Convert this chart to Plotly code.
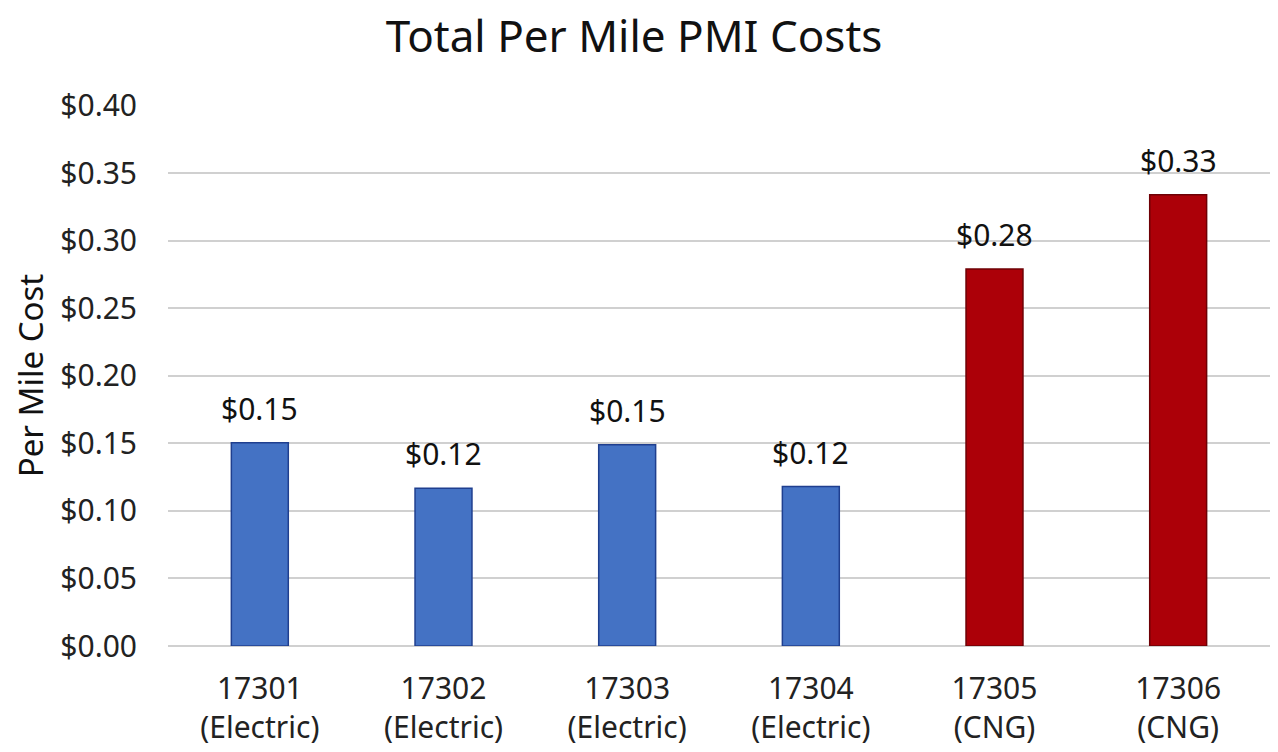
import plotly.graph_objects as go

categories = ["17301<br>(Electric)", "17302<br>(Electric)", "17303<br>(Electric)",
              "17304<br>(Electric)", "17305<br>(CNG)", "17306<br>(CNG)"]
values = [0.1505, 0.1168, 0.149, 0.118, 0.279, 0.334]
fuel = ["Electric", "Electric", "Electric", "Electric", "CNG", "CNG"]
tick_vals = [0, 0.05, 0.10, 0.15, 0.20, 0.25, 0.30, 0.35, 0.40]

fill = {"Electric": "#4472C4", "CNG": "#AC0008"}
edge = {"Electric": "#1F3F8F", "CNG": "#6E0005"}

FONT = "Noto Sans"

fig = go.Figure(go.Bar(
    x=categories,
    y=values,
    width=0.31,
    marker=dict(color=[fill[f] for f in fuel],
                line=dict(color=[edge[f] for f in fuel], width=1.5)),
    cliponaxis=False,
))

for c, v in zip(categories, values):
    fig.add_annotation(x=c, y=v, text=f"${v:.2f}", showarrow=False,
                       yanchor="bottom", yshift=12,
                       font=dict(family=FONT, size=30, color="#111111"))

fig.update_layout(
    width=1270, height=744,
    paper_bgcolor="white", plot_bgcolor="white",
    margin=dict(l=160, r=8, t=97, b=106),
    title=dict(text="Total Per Mile PMI Costs", x=0.493, xanchor="center",
               y=0.962, yanchor="middle", yref="container", automargin=True,
               font=dict(family=FONT, size=44, color="#111111")),
    showlegend=False,
    font=dict(family=FONT, color="#111111"),
)
fig.update_yaxes(
    range=[0, 0.4005], tickvals=tick_vals, automargin=False,
    tickformat="$.2f", tickfont=dict(family=FONT, size=30, color="#222222"),
    gridcolor="#D0D0D0", gridwidth=2, zeroline=True, zerolinecolor="#D0D0D0",
    zerolinewidth=2, showline=False, ticks="", ticklabelstandoff=30,
    title=dict(text="Per Mile Cost", font=dict(family=FONT, size=33, color="#111111"),
               standoff=16),
)
fig.update_xaxes(
    tickfont=dict(family=FONT, size=30, color="#222222"), automargin=False,
    showline=False, ticks="", showgrid=False, ticklabelstandoff=22,
)

fig.write_html("out.html")
